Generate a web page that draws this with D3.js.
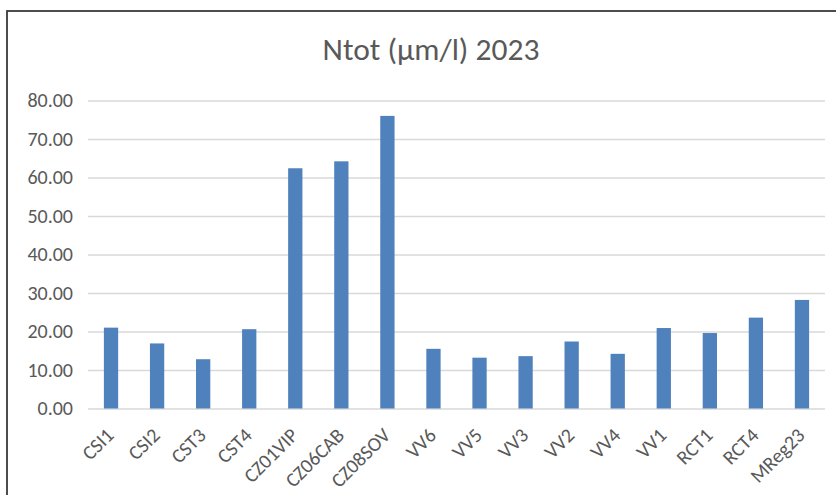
<!DOCTYPE html>
<html>
<head>
<meta charset="utf-8">
<script src="https://cdn.jsdelivr.net/npm/d3@7"></script>
<style>
  html, body { margin: 0; padding: 0; background: #ffffff; }
  svg { display: block; }
  text { font-family: "Carlito", "Liberation Sans Narrow", "Arial Narrow", "Lato", sans-serif; }
</style>
</head>
<body>
<script>
// Sampling stations and total nitrogen (µm/l), 2023
const stations = ["CSI1", "CSI2", "CST3", "CST4", "CZ01VIP", "CZ06CAB", "CZ08SOV",
  "VV6", "VV5", "VV3", "VV2", "VV4", "VV1", "RCT1", "RCT4", "MReg23"];
const ntot = [21.0, 16.9, 12.8, 20.6, 62.4, 64.2, 76.0,
  15.5, 13.2, 13.6, 17.4, 14.2, 20.9, 19.6, 23.6, 28.2];
const yTicks = [0, 10, 20, 30, 40, 50, 60, 70, 80];
const chartTitle = "Ntot (µm/l) 2023";

const W = 836, H = 495;
const margin = { left: 88, right: 11, top: 100.5, bottom: 86.5 };

const svg = d3.select("body").append("svg")
  .attr("width", W).attr("height", H);

// outer chart frame
svg.append("rect")
  .attr("x", 7).attr("y", 11)
  .attr("width", W + 20).attr("height", H + 20)
  .attr("fill", "#ffffff")
  .attr("stroke", "#3a3a3a").attr("stroke-width", 1.8);

const x = d3.scaleBand()
  .domain(stations)
  .range([margin.left, W - margin.right])
  .paddingInner(0.69).paddingOuter(0.345);

const y = d3.scaleLinear()
  .domain([0, 80])
  .range([H - margin.bottom, margin.top]);

// horizontal gridlines with value labels
const yAxis = d3.axisLeft(y)
  .tickValues(yTicks)
  .tickFormat(d3.format(".2f"))
  .tickSize(-(W - margin.right - margin.left))
  .tickPadding(15);

const gy = svg.append("g")
  .attr("transform", `translate(${margin.left},0)`)
  .call(yAxis);
gy.select(".domain").remove();
gy.selectAll(".tick line").attr("stroke", "#d9d9d9").attr("stroke-width", 1.3);
gy.selectAll(".tick text")
  .attr("fill", "#595959")
  .style("font-size", "20px");

// bars
svg.append("g").selectAll("rect")
  .data(stations)
  .join("rect")
  .attr("x", d => x(d))
  .attr("width", x.bandwidth())
  .attr("y", (d, i) => y(ntot[i]))
  .attr("height", (d, i) => y(0) - y(ntot[i]))
  .attr("fill", "#4f81bd");

// category labels, rotated
const xAxis = d3.axisBottom(x).tickSize(0).tickPadding(0);
const gx = svg.append("g")
  .attr("transform", `translate(0,${y(0)})`)
  .call(xAxis);
gx.select(".domain").remove();
gx.selectAll(".tick text")
  .attr("fill", "#595959")
  .style("font-size", "20px")
  .attr("text-anchor", "end")
  .attr("dy", null)
  .attr("transform", "translate(4,28) rotate(-45)");

// title
svg.append("text")
  .attr("x", 431).attr("y", 60)
  .attr("text-anchor", "middle")
  .attr("fill", "#595959")
  .style("font-size", "31.5px")
  .text(chartTitle);
</script>
</body>
</html>
